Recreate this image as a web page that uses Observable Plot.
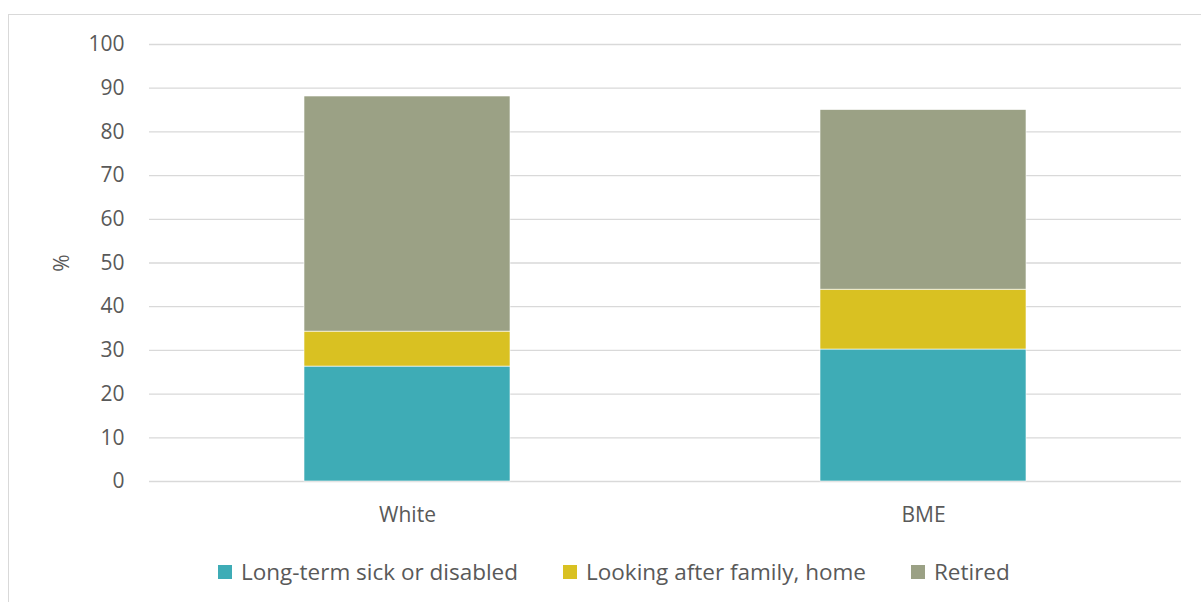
<!DOCTYPE html>
<html><head><meta charset="utf-8">
<script src="https://cdn.jsdelivr.net/npm/d3@7"></script>
<script src="https://cdn.jsdelivr.net/npm/@observablehq/plot@0.6"></script>
<style>
body{margin:0;background:#fff;font-family:"Open Sans","Noto Sans",sans-serif;}
#frame{position:absolute;left:8px;top:14px;width:1200px;height:600px;border:1.5px solid #d9d9d9;border-right:none;border-bottom:none;box-sizing:border-box;}
#chart{position:absolute;left:0;top:0;}
#legend{position:absolute;top:556px;left:218px;display:flex;justify-content:flex-start;gap:45px;font-size:22.5px;color:#595959;white-space:nowrap;}
#legend span.item{display:flex;align-items:center;}
#legend span.sw{display:inline-block;width:14px;height:14px;margin-right:9px;}
</style></head>
<body>
<div id="frame"></div>
<div id="chart"></div>
<div id="legend"></div>
<script>
const categories = ["White", "BME"];
const seriesNames = ["Long-term sick or disabled", "Looking after family, home", "Retired"];
const longTermSick = [26.3, 30.2];
const lookingAfterFamily = [8.0, 13.7];
const retired = [53.8, 41.1];
const colors = ["#3EACB6", "#D9C122", "#9BA185"];
const yTicks = [0,10,20,30,40,50,60,70,80,90,100];

const seriesValues = [longTermSick, lookingAfterFamily, retired];
const data = [];
seriesNames.forEach((s, i) => categories.forEach((c, j) => data.push({category: c, series: s, value: seriesValues[i][j]})));

const plot = Plot.plot({
  width: 1201,
  height: 545,
  marginTop: 44,
  marginBottom: 64,
  marginLeft: 149,
  marginRight: 20,
  style: {fontFamily: '"Open Sans","Noto Sans",sans-serif', fontSize: "21px", color: "#595959", background: "transparent"},
  x: {domain: categories, paddingInner: 0.6, paddingOuter: 0.3, label: null},
  y: {domain: [0, 100], label: null},
  color: {domain: seriesNames, range: colors},
  marks: [
    Plot.gridY(yTicks, {stroke: "#d9d9d9", strokeOpacity: 1, strokeWidth: 1.3}),
    Plot.barY(data, Plot.stackY({x: "category", y: "value", fill: "series", order: seriesNames, stroke: "#fff", strokeWidth: 0.6})),
    Plot.axisY(yTicks, {tickSize: 0, tickPadding: 25, label: "%", labelAnchor: "center", labelArrow: "none", labelOffset: 95, fontSize: 21}),
    Plot.axisX({tickSize: 0, tickPadding: 26, label: null, fontSize: 21})
  ]
});
document.getElementById("chart").appendChild(plot);

const legend = document.getElementById("legend");
seriesNames.forEach((s, i) => {
  const item = document.createElement("span");
  item.className = "item";
  const sw = document.createElement("span");
  sw.className = "sw";
  sw.style.background = colors[i];
  item.appendChild(sw);
  item.appendChild(document.createTextNode(s));
  legend.appendChild(item);
});
</script>
</body></html>
